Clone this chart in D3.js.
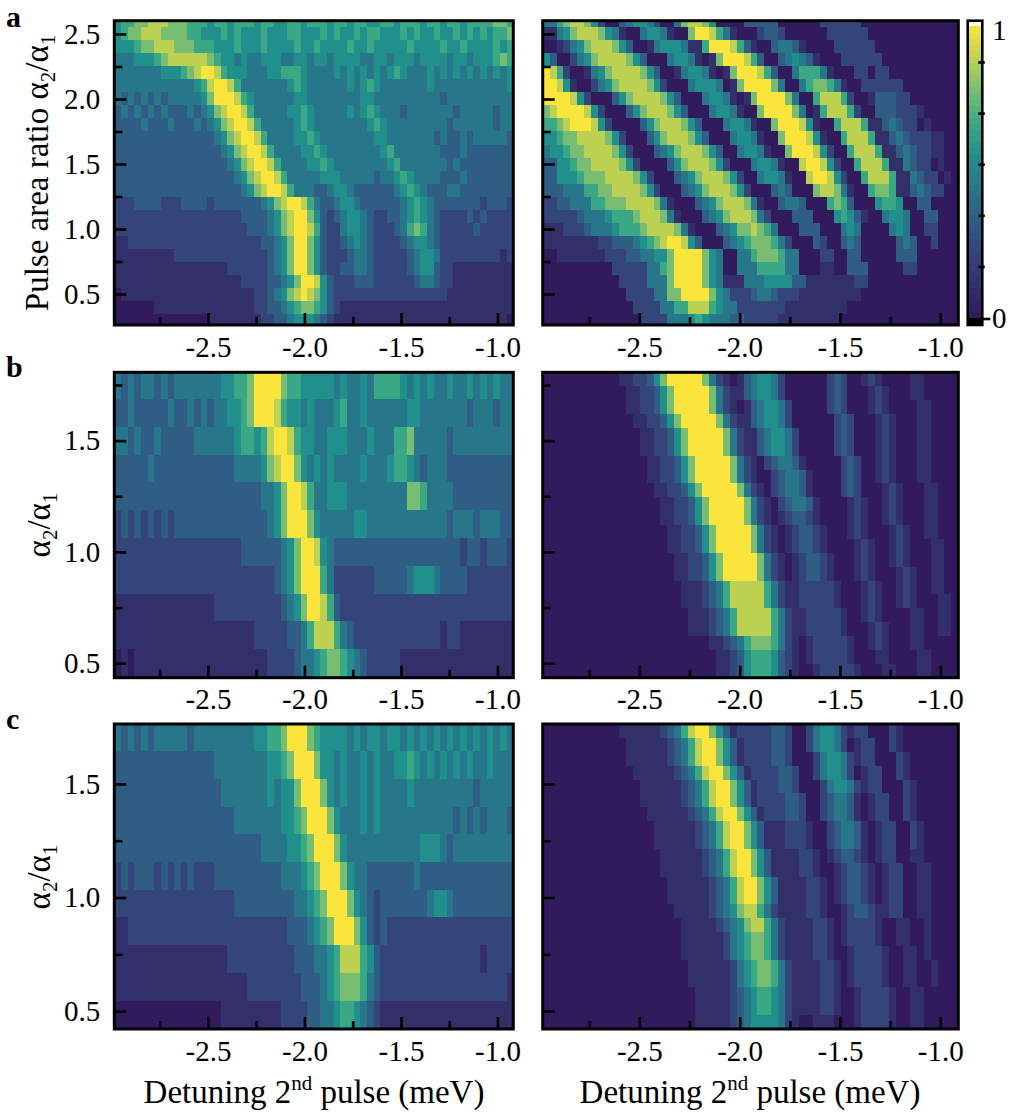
<!DOCTYPE html>
<html>
<head>
<meta charset="utf-8">
<style>
  body { margin: 0; background: #fff; }
  svg text { font-family: "Liberation Serif", "DejaVu Serif", "Times New Roman", serif; fill: #000; }
  .tick line { stroke: #000; stroke-width: 2.6px; }
  .tick text { font-size: 29px; }
</style>
</head>
<body>
<svg id="fig" width="1015" height="1119"></svg>
<script src="https://cdn.jsdelivr.net/npm/d3@7"></script>
<script>
// ---- data (cell levels 0..9; 60 detuning columns per row) ----
const ratioA = [2.6, 2.5, 2.4, 2.3, 2.2, 2.1, 2.0, 1.9, 1.8, 1.7, 1.6, 1.5, 1.4, 1.3, 1.2, 1.1, 1.0, 0.9, 0.8, 0.7, 0.6, 0.5, 0.4, 0.3];
const ratioB = [1.75, 1.625, 1.5, 1.375, 1.25, 1.125, 1.0, 0.875, 0.75, 0.625, 0.5];
const ratioC = [1.705, 1.583, 1.461, 1.339, 1.217, 1.095, 0.973, 0.851, 0.729, 0.607, 0.485];
const ratioSimB = [1.776, 1.714, 1.651, 1.589, 1.526, 1.464, 1.402, 1.339, 1.277, 1.214, 1.152, 1.090, 1.027, 0.965, 0.902, 0.840, 0.778, 0.715, 0.653, 0.590, 0.528, 0.466];
const ratioSimC = [1.733, 1.672, 1.611, 1.550, 1.489, 1.428, 1.367, 1.306, 1.245, 1.184, 1.123, 1.062, 1.001, 0.940, 0.879, 0.818, 0.757, 0.696, 0.635, 0.574, 0.513, 0.452];

const expA = [
  "5667788877 7666566566 6566556656 6656656655 6656665665 6656666776",
  "5677888777 7665556565 5565556655 5656556566 5556565565 5656565667",
  "5556778887 7766655565 5565555655 6555565565 5555655556 5565555656",
  "4445556788 8888765545 4455544554 5545555445 5455545555 4554555676",
  "4444444555 6789986555 4445566654 4445454545 4565444545 4545454545",
  "4444444444 4456899864 4444445654 4444454565 4444444544 4444444445",
  "4343434344 4445799986 5444444554 4444444554 4444444443 4444444444",
  "3434343433 3434578998 6444445565 4444454565 4443444444 4344444344",
  "3333433343 3343457899 8644444565 4444444456 5444444444 3444444344",
  "3333333333 3333345789 9864444556 5444444445 5444444434 3343444443",
  "3333333333 3333334578 9986444455 6544444444 5644444443 3343333333",
  "3333333333 3333333457 8998644445 5654444444 4564444444 3433333333",
  "3333333333 3333333345 7899864444 4555444443 4456544443 3343333333",
  "3333333333 3333333334 5789986444 3345543333 3345654333 4433333333",
  "2223333222 3333233333 3345789986 4334554333 3334565433 3333323332",
  "2222222222 2222222223 3334578997 5323455432 2334565432 2223232222",
  "2222222222 2222222222 3334578998 6322455432 2234676432 2222322222",
  "1122222222 2222222222 2233457997 5322345432 2223455432 2222222222",
  "1111111112 2222222222 2223457997 5322234432 2222345542 2222222212",
  "1111111111 1111111222 2223457997 5322334432 2222345532 2111111111",
  "1111111111 1111111112 2223345799 8532223332 2222234432 2111111111",
  "0111111111 1111111111 1223457898 7532222222 2222222222 1111111111",
  "0000001111 1111111111 1223345677 6532111111 1111111111 1111111111",
  "0000000000 0000111111 1122334555 4321111111 1111111111 1111111110"
];

const simA = [
  "4467887520 0345542004 7887500003 3333000000 2222220000 0000000000",
  "1145788875 4100455410 0799864100 0233200000 0222222000 0000000000",
  "0012457888 7530014555 4116999863 1003443100 0022222200 0000000000",
  "5300245788 8875300045 5410179998 6300345431 0002222220 0000000000",
  "9862001457 8888753001 4554101799 9863004666 4100022022 0000000000",
  "9985100245 7888875200 0455540179 9997400467 7641002222 2200000000",
  "9999852000 3578888753 0004554101 7999974006 8886200133 3220000000",
  "7899998520 0035788875 3000455410 0799997401 6888620033 3222100000",
  "6678999852 0000357888 7530004554 1007999851 0068886113 4322010000",
  "5567788887 5200035788 8753000455 4100799985 1006888611 3432221100",
  "4556778888 7520003457 8887530045 5410079998 5200688861 1343221100",
  "3355677888 8752000035 7888752000 4554100899 8520068886 1143220100",
  "3355567778 8887520003 4578887520 0455410089 9852006888 6114322010",
  "3334446677 8888752000 3457888752 0003430007 8874100677 6113432200",
  "2233444667 7788887410 0034578887 4100344300 0676300056 6500330000",
  "2222234445 6667888741 0003457888 7420003330 0056531004 5540033000",
  "1112223444 5666788887 4100034577 8764000333 0004540000 4540022000",
  "1111111122 3334567899 8530003456 7776420003 2003430000 0343002000",
  "0011111112 2233445579 9997540044 6777644000 2200330000 0333000000",
  "0000000000 2222244679 9997540044 4666644000 1100333000 0022000000",
  "0000000000 0222244479 9997541114 4455553311 1111122000 0000000000",
  "0000000000 0022224477 9999754222 3443222111 1111110000 0000000000",
  "0000000000 0002222446 6888654422 2222211111 1111000000 0000000000",
  "0000000000 0000222244 4565444332 2222111111 1110000000 0000000000"
];

const expB = [
  "4343443434 4444445566 7999976655 5554544546 6665454544 5445454544",
  "3343333343 3434344556 7999865545 4445644544 4444554444 4443444344",
  "4434334333 3344444456 6568998655 4455544454 4466744444 3444444444",
  "3333343333 3333333344 4457899754 5454444544 4566543444 3333333333",
  "3333333333 3333333333 3344579986 4455544444 4444776444 4333333333",
  "2323232323 3333333333 3334579997 5444445544 4444444444 3444344433",
  "2222222222 2222222223 3333345799 8543333333 3333333333 3323323332",
  "2222222222 2222222222 2222345799 9642222223 3333455543 3332222222",
  "1111111111 1111122222 2222234579 9863222222 2222222222 2222222222",
  "1111111111 1111111111 1222223346 8886432222 2222222221 2211111111",
  "0101111111 1111111111 1112222344 5677654322 2221111111 1111111111"
];

const simB = [
  "0000000000 0112235799 9997421013 4554200000 0232001210 0001100000",
  "0000000000 0011223579 9999742113 4554200000 0232000121 0001100000",
  "0000000000 0011223579 9999742101 3455420000 0232000121 0000110000",
  "0000000000 0001122357 9999974211 3455420000 0023200012 1000110000",
  "0000000000 0000112235 7999997421 1345542000 0023200012 1000110000",
  "0000000000 0000112235 7999997421 1345542000 0023200012 1000110000",
  "0000000000 0000011223 5799999742 1023443100 0002320012 1000110000",
  "0000000000 0000011223 5799999742 1002344310 0002320012 1000110000",
  "0000000000 0000001122 3579999974 2102344310 0002320001 2100011000",
  "0000000000 0000000112 2357999997 4210234431 0000121001 2100011000",
  "0000000000 0000000112 2357999997 4210123321 0000121001 2100011000",
  "0000000000 0000000011 2235799999 7421012332 1000121000 1210011000",
  "0000000000 0000000011 2235799999 7421012332 1000012100 1210001100",
  "0000000000 0000000001 1223579999 9742101233 2100012100 1210001100",
  "0000000000 0000000001 1223579999 9742101233 2100012100 0121001100",
  "0000000000 0000000000 1112346888 8864211222 2210001210 0121001100",
  "0000000000 0000000000 1112346888 8864211222 2210001210 0121000110",
  "0000000000 0000000000 0111234688 8886421122 2221001210 0001100110",
  "0000000000 0000000000 0111234688 8886421122 2221000121 0001100110",
  "0000000000 0000000000 0000112346 7776421012 2222100121 0001100000",
  "0000000000 0000000000 0000011235 6665321012 2222100011 0000110000",
  "0000000000 0000000000 0000011235 6665321001 2222210001 1000110000"
];

const expC = [
  "4343434444 4344444444 4556679997 6555545455 4554545454 5454545454",
  "3333333333 3333344444 4445567999 7554544545 4455654545 4545445444",
  "3333333333 3333334444 4445455799 9754544545 4444544444 4444344444",
  "3333333333 3333333344 4444455679 9975444545 4444444444 4343434443",
  "3333333333 3333333333 3344445567 9997544444 4444445554 3444444444",
  "2323332323 2322233333 3333344456 7999754433 3333343333 3333333333",
  "2222222222 2222222233 3333333445 6799975432 3333333455 4333333333",
  "1122222222 2222222222 2222223334 5679997532 3222222222 2222222222",
  "1111111111 1111111222 2222222333 4456888653 2222222222 2222212222",
  "1111111111 1111111111 2222222233 3456777643 2222222222 2222222221",
  "0000000000 0000001111 1111122223 3445665432 1111111111 1111111111"
];

const simC = [
  "0000000000 0111111234 6899753122 2223320024 5542122000 2100000000",
  "0000000000 0011111123 4689975312 2223320024 5542012200 2100000000",
  "0000000000 0011111123 4689975312 2223320002 4554212200 0210000000",
  "0000000000 0001111112 3468997531 2222332002 4554201220 0210000000",
  "0000000000 0000111111 2346899753 1222332000 2455421220 0021000000",
  "0000000000 0000111111 2346899753 1222233200 2344310122 0021000000",
  "0000000000 0000011111 1234689975 3122233200 2344310122 0021000000",
  "0000000000 0000001111 1123468997 5311122210 0234431012 2002100000",
  "0000000000 0000001111 1123468997 5311122210 0234431012 2002100000",
  "0000000000 0000000111 1112346899 7531111221 0123321012 2001100000",
  "0000000000 0000000111 1112346899 7531111221 0012332101 2200110000",
  "0000000000 0000000011 1111234689 9753111122 1012332101 2200110000",
  "0000000000 0000000011 1111234689 9753111122 1012332101 2200110000",
  "0000000000 0000000001 1111234578 8642111122 1001233211 2200110000",
  "0000000000 0000000000 1111123457 8864211112 2101222210 0110010000",
  "0000000000 0000000000 1111112456 7764211112 2101222210 0110010000",
  "0000000000 0000000000 1111112456 7764211112 2100122221 0011010000",
  "0000000000 0000000000 0111111245 6776421111 2210122221 0011001000",
  "0000000000 0000000000 0111111245 6776421111 2210122221 0011001000",
  "0000000000 0000000000 0011111234 5665421111 2210012222 1001100000",
  "0000000000 0000000000 0011111234 5665421111 2210012222 1001100000",
  "0000000000 0000000000 0011111234 5555421001 1100012222 1001100000"
];

const xTicksMajor = [-2.5, -2.0, -1.5, -1.0];
const xTicksMinor = [-2.75, -2.25, -1.75, -1.25];
const yTicksMajorA = [0.5, 1.0, 1.5, 2.0, 2.5];
const yTicksMinorA = [0.75, 1.25, 1.75, 2.25];
const yTicksMajorBC = [0.5, 1.0, 1.5];
const yTicksMinorB = [0.75, 1.25, 1.75];
const yTicksMinorC = [0.75, 1.25];
const colorbarTicks = [0.175, 0.35, 0.525, 0.7, 0.875];

// colour map (picture's viridis-like ramp)
const cmapStops = [0, 0.111, 0.222, 0.333, 0.444, 0.556, 0.667, 0.778, 0.889, 1];
const cmapColors = ["#311b5c", "#332f68", "#34457a", "#2f5d84", "#287689", "#218f8b", "#3aa785", "#78bd72", "#bcd152", "#fbe43b"];

// ---- drawing ----
const svg = d3.select("#fig");
const color = d3.scaleLinear().domain(cmapStops).range(cmapColors).clamp(true);
const fmt = d => d.toFixed(1);

const colLeft = [114.3, 513.3], colRight = [542.7, 958.3];
const domLeft = [-2.985, -0.918], domRight = [-2.982, -0.910];

function heatmap(name, grid, ratios, step, xr, xDom, yr, yDom, yMinor, showY) {
  const x = d3.scaleLinear().domain(xDom).range(xr);
  const y = d3.scaleLinear().domain(yDom).range([yr[1], yr[0]]);
  const rows = grid.map(s => s.replace(/ /g, ""));
  const col = d3.scaleBand().domain(d3.range(rows[0].length)).range(xr);

  svg.append("clipPath").attr("id", "clip-" + name)
    .append("rect").attr("x", xr[0]).attr("y", yr[0])
    .attr("width", xr[1] - xr[0]).attr("height", yr[1] - yr[0]);

  const cells = [];
  rows.forEach((row, i) => {
    for (let j = 0; j < row.length; j++) cells.push({ r: ratios[i], j: j, v: +row[j] / 9 });
  });
  const h = step / 2;
  svg.append("g").attr("clip-path", `url(#clip-${name})`)
    .selectAll("rect").data(cells).join("rect")
    .attr("x", d => col(d.j))
    .attr("width", col.bandwidth() + 0.6)
    .attr("y", d => y(d.r + h))
    .attr("height", d => y(d.r - h) - y(d.r + h) + 0.6)
    .attr("fill", d => color(d.v))
    .attr("shape-rendering", "crispEdges");

  // x axis (ticks inward)
  const gx = svg.append("g").attr("transform", `translate(0,${yr[1]})`);
  gx.call(d3.axisBottom(x).tickValues(xTicksMajor).tickSize(-12).tickPadding(11).tickFormat(fmt));
  gx.select(".domain").remove();
  const gxm = svg.append("g").attr("transform", `translate(0,${yr[1]})`);
  gxm.call(d3.axisBottom(x).tickValues(xTicksMinor).tickSize(-8).tickFormat(""));
  gxm.select(".domain").remove();

  // y axis (ticks inward)
  const yMajor = yDom[1] > 2 ? yTicksMajorA : yTicksMajorBC;
  const gy = svg.append("g").attr("transform", `translate(${xr[0]},0)`);
  gy.call(d3.axisLeft(y).tickValues(yMajor).tickSize(-12).tickPadding(14).tickFormat(showY ? fmt : ""));
  gy.select(".domain").remove();
  const gym = svg.append("g").attr("transform", `translate(${xr[0]},0)`);
  gym.call(d3.axisLeft(y).tickValues(yMinor).tickSize(-8).tickFormat(""));
  gym.select(".domain").remove();
  gx.attr("font-family", null); gy.attr("font-family", null);

  // frame
  svg.append("rect").attr("x", xr[0]).attr("y", yr[0])
    .attr("width", xr[1] - xr[0]).attr("height", yr[1] - yr[0])
    .attr("fill", "none").attr("stroke", "#000").attr("stroke-width", 3);
}

const rowA = [20.7, 325], rowB = [372.3, 677.7], rowC = [724, 1029];
const domA = [0.262, 2.602], domB = [0.435, 1.807], domC = [0.421, 1.764];

heatmap("ea", expA, ratioA, 0.1, colLeft, domLeft, rowA, domA, yTicksMinorA, true);
heatmap("sa", simA, ratioA, 0.1, colRight, domRight, rowA, domA, yTicksMinorA, false);
heatmap("eb", expB, ratioB, 0.125, colLeft, domLeft, rowB, domB, yTicksMinorB, true);
heatmap("sb", simB, ratioSimB, 0.0624, colRight, domRight, rowB, domB, yTicksMinorB, false);
heatmap("ec", expC, ratioC, 0.122, colLeft, domLeft, rowC, domC, yTicksMinorC, true);
heatmap("sc", simC, ratioSimC, 0.061, colRight, domRight, rowC, domC, yTicksMinorC, false);

// colour bar
const cb = { x0: 967.7, x1: 982.3, top: 20.7, bottom: 325, v1: 26, v0: 318 };
const cbY = d3.scaleLinear().domain([0, 1]).range([cb.v0, cb.v1]);
const nSteps = 48;
svg.append("g").selectAll("rect").data(d3.range(nSteps)).join("rect")
  .attr("x", cb.x0).attr("width", cb.x1 - cb.x0)
  .attr("y", i => cbY((i + 1) / nSteps))
  .attr("height", i => cbY(i / nSteps) - cbY((i + 1) / nSteps) + 0.5)
  .attr("fill", i => color((i + 0.5) / nSteps))
  .attr("shape-rendering", "crispEdges");
svg.append("rect").attr("x", cb.x0).attr("y", cb.top).attr("width", cb.x1 - cb.x0)
  .attr("height", cb.v1 - cb.top).attr("fill", "#fff");
svg.append("rect").attr("x", cb.x0).attr("y", cb.v0).attr("width", cb.x1 - cb.x0)
  .attr("height", cb.bottom - cb.v0).attr("fill", "#000");
svg.append("g").selectAll("line").data(colorbarTicks).join("line")
  .attr("x1", cb.x1 - 4).attr("x2", cb.x1 + 2.5)
  .attr("y1", d => cbY(d)).attr("y2", d => cbY(d))
  .attr("stroke", "#000").attr("stroke-width", 2.6);
svg.append("line").attr("x1", cb.x1 - 3).attr("x2", cb.x1 + 8)
  .attr("y1", cbY(0) + 1).attr("y2", cbY(0) + 1)
  .attr("stroke", "#000").attr("stroke-width", 2.6);
svg.append("rect").attr("x", cb.x0).attr("y", cb.top)
  .attr("width", cb.x1 - cb.x0).attr("height", cb.bottom - cb.top)
  .attr("fill", "none").attr("stroke", "#000").attr("stroke-width", 2.6);
svg.append("text").attr("x", 992).attr("y", 40).attr("font-size", 29).text("1");
svg.append("text").attr("x", 992).attr("y", 328).attr("font-size", 29).text("0");

// panel letters
[["a", 27], ["b", 377], ["c", 729]].forEach(([t, yy]) => {
  svg.append("text").attr("x", 6).attr("y", yy).attr("font-size", 30)
    .attr("font-weight", "bold").text(t);
});

// y labels
function alphaLabel(cx, cy, prefix) {
  const t = svg.append("text").attr("transform", `translate(${cx},${cy}) rotate(-90)`)
    .attr("text-anchor", "middle").attr("font-size", 33);
  t.append("tspan").text(prefix + "α");
  t.append("tspan").attr("font-size", 21).attr("dy", 7).text("2");
  t.append("tspan").attr("dy", -7).text("/α");
  t.append("tspan").attr("font-size", 21).attr("dy", 7).text("1");
}
alphaLabel(48, 173, "Pulse area ratio ");
alphaLabel(50, 525, "");
alphaLabel(50, 877, "");

// x labels
[314, 750].forEach(cx => {
  const t = svg.append("text").attr("x", cx).attr("y", 1103)
    .attr("text-anchor", "middle").attr("font-size", 33);
  t.append("tspan").text("Detuning 2");
  t.append("tspan").attr("font-size", 21).attr("dy", -13).text("nd");
  t.append("tspan").attr("dy", 13).text(" pulse (meV)");
});
</script>
</body>
</html>
